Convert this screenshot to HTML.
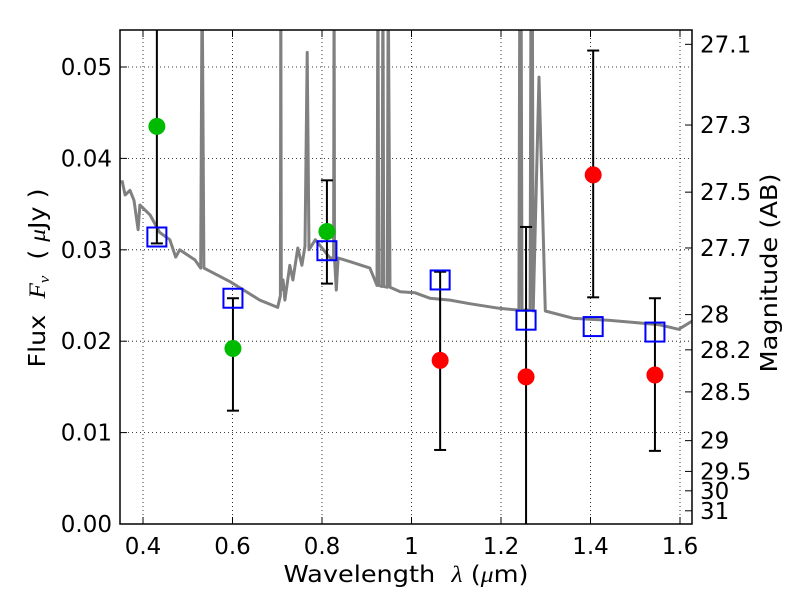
<!DOCTYPE html>
<html><head><meta charset="utf-8">
<style>
body{margin:0;background:#fff;}
svg{display:block;font-family:"DejaVu Sans","Liberation Sans",sans-serif;}
</style></head>
<body>
<svg id="chart" width="800" height="600" viewBox="0 0 800 600" xmlns="http://www.w3.org/2000/svg">
<rect x="0" y="0" width="800" height="600" fill="#fff"/>
<g id="grid"></g>
<g id="spectrum"></g>
<g id="errs"></g>
<g id="marks"></g>
<rect x="120" y="30" width="572" height="494" fill="none" stroke="#000" stroke-width="1.5"/>
<g id="axes"></g>
<text x="406" y="582" font-size="23" text-anchor="middle" textLength="245" lengthAdjust="spacingAndGlyphs" xml:space="preserve">Wavelength  <tspan font-family="Liberation Serif,serif" font-style="italic">λ</tspan> (<tspan font-family="Liberation Serif,serif" font-style="italic">μ</tspan>m)</text>
<text transform="translate(45,278) rotate(-90)" font-size="23" text-anchor="middle" textLength="179" lengthAdjust="spacingAndGlyphs" xml:space="preserve">Flux  <tspan font-family="Liberation Serif,serif" font-style="italic">F</tspan><tspan font-family="Liberation Serif,serif" font-style="italic" font-size="15" dy="4">ν</tspan><tspan dy="-4">  ( </tspan><tspan font-family="Liberation Serif,serif" font-style="italic">μ</tspan>Jy )</text>
<text transform="translate(777,273) rotate(-90)" font-size="23" text-anchor="middle" textLength="199" lengthAdjust="spacingAndGlyphs">Magnitude (AB)</text>
</svg>
<script>
const xTicks=[0.4,0.6,0.8,1.0,1.2,1.4,1.6];
const xTickLabels=["0.4","0.6","0.8","1","1.2","1.4","1.6"];
const yTicks=[0,0.01,0.02,0.03,0.04,0.05];
const yTickLabels=["0.00","0.01","0.02","0.03","0.04","0.05"];
const magTicks=[27.1,27.3,27.5,27.7,28,28.2,28.5,29,29.5,30,31];
const magTickLabels=["27.1","27.3","27.5","27.7","28","28.2","28.5","29","29.5","30","31"];
const specLam=[0.353,0.360,0.371,0.380,0.389,0.393,0.416,0.437,0.460,0.473,0.482,0.516,0.529,0.532,0.536,0.595,0.661,0.701,0.707,0.708,0.709,0.713,0.717,0.728,0.735,0.746,0.755,0.762,0.767,0.771,0.785,0.818,0.826,0.827,0.828,0.832,0.836,0.863,0.907,0.923,0.925,0.927,0.934,0.936,0.938,0.946,0.948,0.952,0.975,1.008,1.041,1.086,1.130,1.196,1.240,1.242,1.245,1.247,1.265,1.267,1.270,1.272,1.285,1.299,1.363,1.440,1.508,1.553,1.597,1.627];
const specFlux=[0.0376,0.0360,0.0365,0.0354,0.0322,0.0349,0.0338,0.0319,0.0311,0.0292,0.0300,0.0289,0.0280,0.060,0.0280,0.0265,0.0245,0.0237,0.0250,0.060,0.0256,0.0267,0.0245,0.0283,0.0267,0.0302,0.0283,0.0304,0.0516,0.0300,0.0311,0.0291,0.0291,0.060,0.0291,0.0256,0.0291,0.0287,0.0280,0.0261,0.060,0.0261,0.0260,0.060,0.0260,0.0259,0.060,0.0259,0.0254,0.0253,0.0247,0.0245,0.0241,0.0236,0.0234,0.060,0.060,0.0234,0.0234,0.060,0.060,0.0233,0.0489,0.0233,0.0225,0.0223,0.0220,0.0218,0.0213,0.0222];
const obsLam=[0.431,0.601,0.811,1.064,1.256,1.406,1.544];
const obsFlux=[0.0435,0.0192,0.0320,0.0179,0.0161,0.0382,0.0163];
const obsColor=["#00bb00","#00bb00","#00bb00","#ff0000","#ff0000","#ff0000","#ff0000"];
const modelFlux=[0.0314,0.0247,0.0299,0.0267,0.0223,0.0216,0.0210];
const errLow=[0.0307,0.0124,0.0263,0.0081,-0.002,0.0248,0.0080];
const errHigh=[0.060,0.0247,0.0376,0.0276,0.0325,0.0518,0.0247];

const NS="http://www.w3.org/2000/svg";
const L=120,R=692,T=30,B=524;
const X=l=>143+(l-0.4)*447.5;
const Y=f=>B-f*9140;
const magToY=m=>Y(Math.pow(10,(23.9-m)/2.5));
function mk(tag,attrs,parent){const e=document.createElementNS(NS,tag);for(const k in attrs)e.setAttribute(k,attrs[k]);parent.appendChild(e);return e;}
const grid=document.getElementById('grid'),axes=document.getElementById('axes');
xTicks.forEach((v,i)=>{
  const x=X(v);
  const g=mk('line',{x1:x,x2:x,y1:T,y2:B,stroke:'#000','stroke-width':0.8,'stroke-dasharray':'1,3'},grid);
  
  
  mk('line',{x1:x,x2:x,y1:B,y2:B-7,stroke:'#000','stroke-width':1},axes);
  mk('line',{x1:x,x2:x,y1:T,y2:T+7,stroke:'#000','stroke-width':1},axes);
  const t=mk('text',{x:x,y:554,'font-size':23,'text-anchor':'middle'},axes);
  t.textContent=xTickLabels[i];
  
  
});
yTicks.forEach((v,i)=>{
  const y=Y(v);
  if(i>0){const g=mk('line',{x1:L,x2:R,y1:y,y2:y,stroke:'#000','stroke-width':0.8,'stroke-dasharray':'1,3'},grid);
  
  }
  mk('line',{x1:L,x2:L+7,y1:y,y2:y,stroke:'#000','stroke-width':1},axes);
  const t=mk('text',{x:112,y:y+8,'font-size':23,'text-anchor':'end'},axes);
  t.textContent=yTickLabels[i];
  
  
});
magTicks.forEach((m,i)=>{
  const y=magToY(m);
  mk('line',{x1:R-7,x2:R,y1:y,y2:y,stroke:'#000','stroke-width':1},axes);
  const t=mk('text',{x:700,y:y+8,'font-size':23,'text-anchor':'start'},axes);
  t.textContent=magTickLabels[i];
  
  
});
const cp=mk('clipPath',{id:'clip'},document.getElementById('chart'));
mk('rect',{x:L,y:T,width:R-L,height:B-T},cp);
const sp=document.getElementById('spectrum');
sp.setAttribute('clip-path','url(#clip)');
const pts=specLam.map((l,i)=>X(l).toFixed(1)+','+Y(specFlux[i]).toFixed(1)).join(' ');
const pl=mk('polyline',{points:pts,fill:'none',stroke:'#808080','stroke-width':3,'stroke-linejoin':'round'},sp);


const eg=document.getElementById('errs');
eg.setAttribute('clip-path','url(#clip)');
obsLam.forEach((l,i)=>{
  const x=X(l);
  const e=mk('line',{x1:x,x2:x,y1:Y(errLow[i]),y2:Y(errHigh[i]),stroke:'#000','stroke-width':2},eg);
  
  
  [errLow[i],errHigh[i]].forEach(v=>{if(v>0&&v<0.054)mk('line',{x1:x-6,x2:x+6,y1:Y(v),y2:Y(v),stroke:'#000','stroke-width':2},eg);});
});
const mg=document.getElementById('marks');
obsLam.forEach((l,i)=>{
  const x=X(l);
  const s=mk('rect',{x:x-9.5,y:Y(modelFlux[i])-9.5,width:19,height:19,fill:'none',stroke:'#0000ff','stroke-width':2},mg);
  
  
  const c=mk('circle',{cx:x,cy:Y(obsFlux[i]),r:8.5,fill:obsColor[i]},mg);
  
  
});
</script>
</body></html>
